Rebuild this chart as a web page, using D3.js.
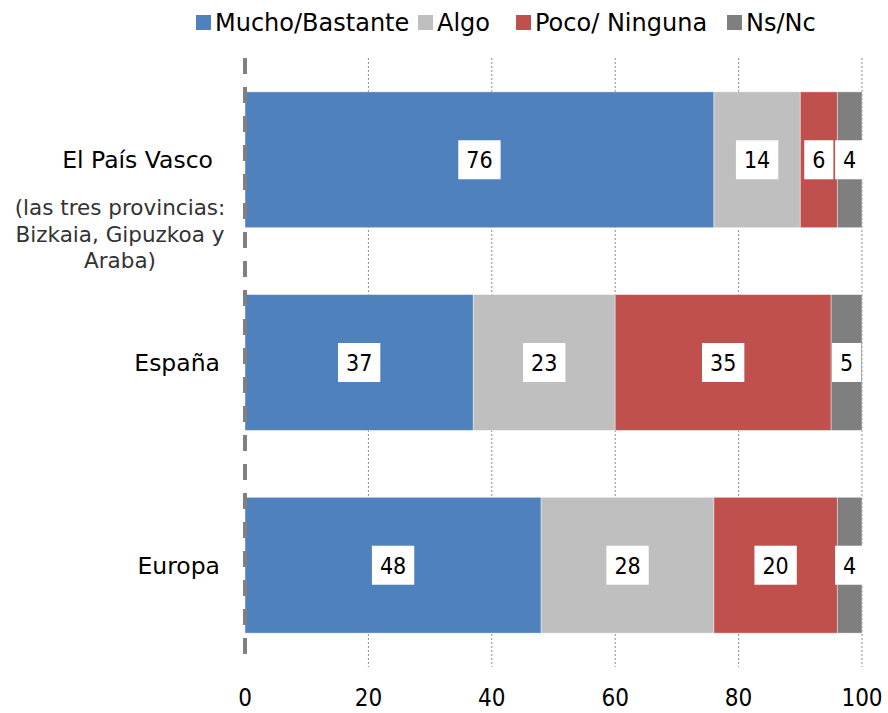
<!DOCTYPE html>
<html>
<head>
<meta charset="utf-8">
<script src="https://cdn.jsdelivr.net/npm/d3@7"></script>
<style>
  body { margin: 0; background: #fff; }
  svg text { font-family: "DejaVu Sans Condensed", "DejaVu Sans", sans-serif; }
  svg text.wide { font-family: "DejaVu Sans", sans-serif; }
</style>
</head>
<body>
<div id="chart"></div>
<script>
var categories = ["El País Vasco", "España", "Europa"];
var series = ["Mucho/Bastante", "Algo", "Poco/ Ninguna", "Ns/Nc"];
var colors = ["#4F81BD", "#BFBFBF", "#C0504D", "#7F7F7F"];
var valuesMucho = [76, 37, 48];
var valuesAlgo = [14, 23, 28];
var valuesPoco = [6, 35, 20];
var valuesNsNc = [4, 5, 4];
var tickValues = [0, 20, 40, 60, 80, 100];
var subLabel = ["(las tres provincias:", "Bizkaia, Gipuzkoa y", "Araba)"];

var width = 888, height = 713;
var svg = d3.select("#chart").append("svg")
    .attr("width", width).attr("height", height);

var x = d3.scaleLinear().domain([0, 100]).range([245, 862]);
var y = d3.scaleBand().domain(categories).range([58, 667])
    .paddingInner(0.33).paddingOuter(0.167);

// build rows for the stack
var table = categories.map(function(c, i) {
    return {
        cat: c,
        "Mucho/Bastante": valuesMucho[i],
        "Algo": valuesAlgo[i],
        "Poco/ Ninguna": valuesPoco[i],
        "Ns/Nc": valuesNsNc[i]
    };
});
var stacked = d3.stack().keys(series)(table);

// gridlines
svg.append("g").selectAll("line")
    .data(tickValues.filter(function(t) { return t > 0; }))
    .enter().append("line")
    .attr("x1", function(d) { return x(d); })
    .attr("x2", function(d) { return x(d); })
    .attr("y1", 58).attr("y2", 667)
    .attr("stroke", "#8c8c8c")
    .attr("stroke-width", 1)
    .attr("stroke-dasharray", "2,2");

// bars
var layers = svg.append("g").selectAll("g")
    .data(stacked).enter().append("g")
    .attr("fill", function(d, i) { return colors[i]; });

layers.selectAll("rect")
    .data(function(d) { return d; })
    .enter().append("rect")
    .attr("x", function(d) { return x(d[0]); })
    .attr("width", function(d) { return x(d[1]) - x(d[0]); })
    .attr("y", function(d) { return y(d.data.cat); })
    .attr("height", y.bandwidth())
    .attr("stroke", "#ffffff")
    .attr("stroke-opacity", 0.5)
    .attr("stroke-width", 0.8);

// zero axis, dashed
svg.append("line")
    .attr("x1", x(0)).attr("x2", x(0))
    .attr("y1", 58).attr("y2", 667)
    .attr("stroke", "#808080")
    .attr("stroke-width", 4)
    .attr("stroke-dasharray", "16,13");

// value labels
layers.each(function(layer) {
    layer.forEach(function(d) {
        var v = d[1] - d[0];
        var cx = x((d[0] + d[1]) / 2);
        var cy = y(d.data.cat) + y.bandwidth() / 2;
        var lg = svg.append("g");
        var t = lg.append("text")
            .attr("x", cx).attr("y", cy)
            .attr("dy", "0.36em")
            .attr("text-anchor", "middle")
            .attr("font-size", 23)
            .attr("fill", "#000")
            .text(v);
        var bb = t.node().getBBox();
        lg.insert("rect", "text")
            .attr("x", cx - bb.width / 2 - 8)
            .attr("y", cy - 19.5)
            .attr("width", bb.width + 16)
            .attr("height", 39)
            .attr("fill", "#fff");
    });
});

// x axis tick labels
svg.append("g").selectAll("text")
    .data(tickValues).enter().append("text")
    .attr("x", function(d) { return x(d); })
    .attr("y", 706)
    .attr("text-anchor", "middle")
    .attr("font-size", 24)
    .attr("fill", "#000")
    .text(function(d) { return d; });

// category labels
svg.append("g").selectAll("text")
    .data(categories).enter().append("text")
    .attr("class", "wide")
    .attr("x", function(d, i) { return i === 0 ? 213 : 220; })
    .attr("y", function(d) { return y(d) + y.bandwidth() / 2; })
    .attr("dy", "0.36em")
    .attr("text-anchor", "end")
    .attr("font-size", 23.5)
    .attr("fill", "#000")
    .text(function(d) { return d; });

svg.append("g").selectAll("text")
    .data(subLabel).enter().append("text")
    .attr("class", "wide")
    .attr("x", 120)
    .attr("y", function(d, i) { return 215 + i * 26.5; })
    .attr("text-anchor", "middle")
    .attr("font-size", 21.5)
    .attr("fill", "#333")
    .text(function(d) { return d; });

// legend
var legendX = [196, 418, 516, 727];
var leg = svg.append("g").selectAll("g")
    .data(series).enter().append("g")
    .attr("transform", function(d, i) { return "translate(" + legendX[i] + ",0)"; });
leg.append("rect")
    .attr("x", 0).attr("y", 15)
    .attr("width", 15).attr("height", 15)
    .attr("fill", function(d, i) { return colors[i]; });
leg.append("text")
    .attr("class", "wide")
    .attr("x", 19).attr("y", 31)
    .attr("font-size", 24)
    .attr("fill", "#000")
    .text(function(d) { return d; });
</script>
</body>
</html>
